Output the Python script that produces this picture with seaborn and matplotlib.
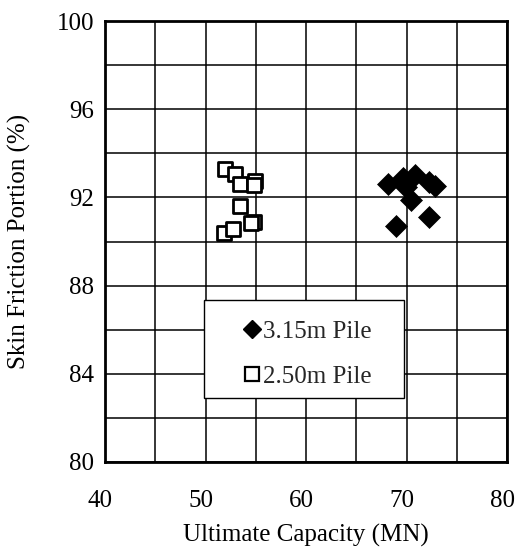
import numpy as np
import pandas as pd
import seaborn as sns
import matplotlib
matplotlib.use("Agg")
import matplotlib.pyplot as plt
from matplotlib.patches import Rectangle
from matplotlib.lines import Line2D
from matplotlib.transforms import ScaledTranslation

# ---- data ----
pile315_capacity = [68.2, 69.7, 70.85, 69.95, 70.4, 72.2, 72.8, 72.2, 68.95]
pile315_skin = [92.6, 92.87, 93.0, 92.47, 91.88, 92.72, 92.5, 91.1, 90.7]

pile250_capacity = [51.9, 52.9, 53.4, 54.9, 54.8, 53.4, 54.8, 54.5, 51.8, 52.7]
pile250_skin = [93.3, 93.05, 92.6, 92.75, 92.55, 91.6, 90.9, 90.85, 90.4, 90.55]

series_labels = ["3.15m Pile", "2.50m Pile"]
x_tick_labels = [40, 50, 60, 70, 80]
y_tick_labels = [80, 84, 88, 92, 96, 100]
x_label = "Ultimate Capacity (MN)"
y_label = "Skin Friction Portion (%)"

df = pd.concat([
    pd.DataFrame({"cap": pile315_capacity, "skin": pile315_skin, "pile": series_labels[0]}),
    pd.DataFrame({"cap": pile250_capacity, "skin": pile250_skin, "pile": series_labels[1]}),
])

sns.set_theme(style="white")
plt.rcParams["font.family"] = ["Liberation Serif", "DejaVu Serif"]

FS = 18

fig = plt.figure(figsize=(5.16, 5.53), dpi=100)
ax = fig.add_axes([105/516, 1-462/553, 402/516, 441/553])

d1 = df[df.pile == series_labels[0]]
d2 = df[df.pile == series_labels[1]]
sns.scatterplot(data=d1, x="cap", y="skin", marker="D", s=125, color="black",
                edgecolor="black", linewidth=0.5, ax=ax, zorder=4, legend=False)
sns.scatterplot(data=d2, x="cap", y="skin", marker="s", s=110, facecolor="white",
                edgecolor="black", linewidth=2.0, ax=ax, zorder=3, legend=False)

ax.set_xlim(40, 80)
ax.set_ylim(80, 100)
xt = np.arange(40, 81, 5)
yt = np.arange(80, 101, 2)
ax.set_xticks(xt)
ax.set_yticks(yt)
ax.set_xticklabels([str(v) if v in x_tick_labels else "" for v in xt])
ax.set_yticklabels([str(v) if v in y_tick_labels else "" for v in yt])
ax.tick_params(axis="both", length=0, labelsize=FS, colors="black")
ax.tick_params(axis="x", pad=20)
ax.tick_params(axis="y", pad=8)
shift = ScaledTranslation(-5/100, 0, fig.dpi_scale_trans)
for lbl in ax.get_xticklabels():
    lbl.set_transform(lbl.get_transform() + shift)
ax.grid(True, color="black", linewidth=1.1)
ax.set_axisbelow(True)
for sp in ax.spines.values():
    sp.set_visible(True)
    sp.set_color("black")
    sp.set_linewidth(2.0)

ax.set_xlabel(x_label, fontsize=FS, labelpad=9, color="black")
ax.set_ylabel(y_label, fontsize=FS, labelpad=18, color="black")

# legend box
ax.add_patch(Rectangle((0.246, 0.145), 0.498, 0.222, transform=ax.transAxes,
                       facecolor="white", edgecolor="black", linewidth=1.0, zorder=5))
handles = [
    Line2D([], [], linestyle="none", marker="D", markersize=9.5, color="black"),
    Line2D([], [], linestyle="none", marker="s", markersize=9.5, markerfacecolor="white",
           markeredgecolor="black", markeredgewidth=1.6),
]
leg = ax.legend(handles, series_labels, loc="center", bbox_to_anchor=(0.503, 0.245),
                frameon=False, fontsize=FS, handlelength=0.7, handletextpad=0.1,
                labelspacing=0.9, borderpad=0)
leg.set_zorder(6)

fig.savefig("out.png", dpi=100)
